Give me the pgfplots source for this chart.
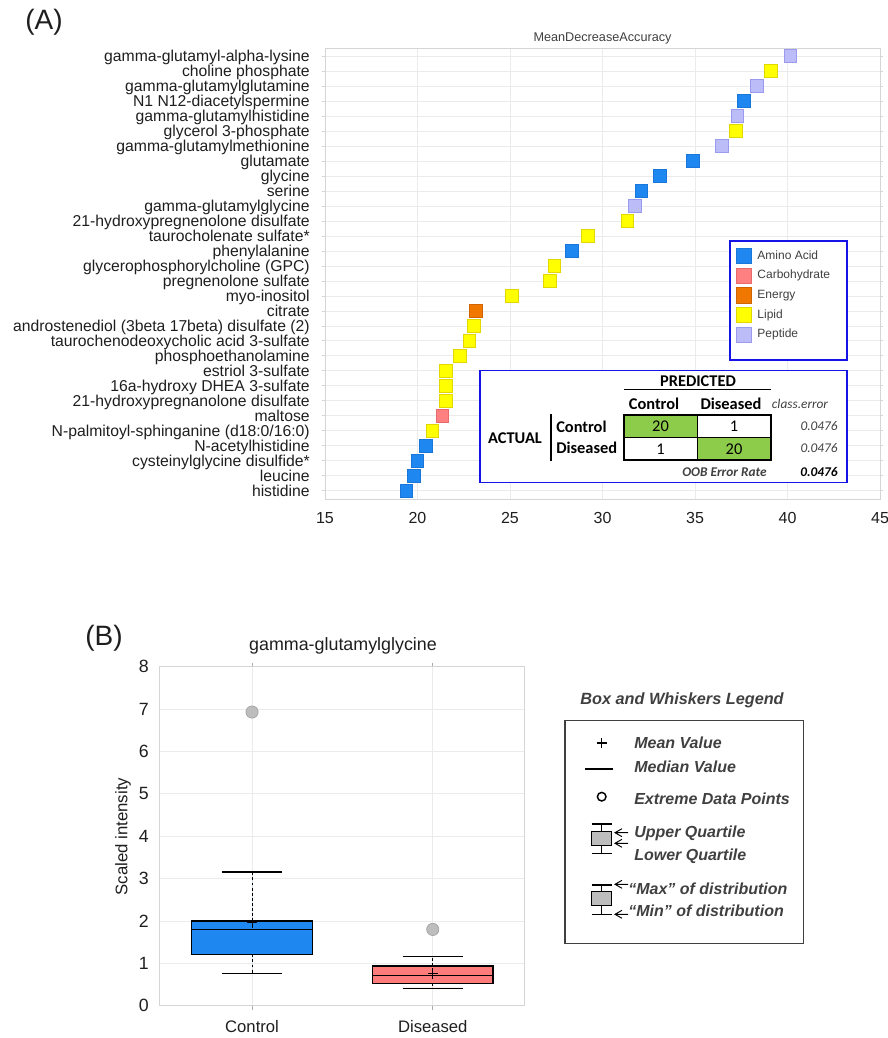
\documentclass[border=0pt]{standalone}
\usepackage{pgfplots}
\pgfplotsset{compat=1.18}
\usepgfplotslibrary{statistics}
\usepackage{fontspec}
\setmainfont{Liberation Sans}
\newfontfamily\calibri{Carlito}
\definecolor{aminoblue}{HTML}{1E88F0}
\definecolor{aminoedge}{HTML}{1A76D8}
\definecolor{carbofill}{HTML}{FF8080}
\definecolor{carboedge}{HTML}{E86A6A}
\definecolor{energyfill}{HTML}{F07800}
\definecolor{energyedge}{HTML}{D06400}
\definecolor{lipidfill}{HTML}{FFFF00}
\definecolor{lipidedge}{HTML}{E2D800}
\definecolor{pepfill}{HTML}{BCBCF8}
\definecolor{pepedge}{HTML}{9A9AEE}
\definecolor{frameblue}{HTML}{1414E6}
\definecolor{cmgreen}{HTML}{8DCB4A}
\definecolor{ctrlbox}{HTML}{1E88F0}
\definecolor{disbox}{HTML}{FF7C7C}
\definecolor{outgray}{HTML}{BDBDBD}
\definecolor{gridgray}{HTML}{EBEBEB}
\definecolor{framegray}{HTML}{D5D5D5}
\definecolor{txt}{HTML}{1E1E1E}
\definecolor{legtxt}{HTML}{404040}
\pgfplotsset{
  catmark/.style n args={2}{only marks, mark=square*, mark size=4.7pt,
    mark options={fill=#1, draw=#2, line width=0.7pt}},
}
\begin{document}
\begin{tikzpicture}
\useasboundingbox (0,0) rectangle (666pt,778.5pt);

% ---------------- Panel A ----------------
\begin{axis}[
  at={(243.75pt,404.25pt)}, anchor=south west,
  scale only axis, width=416.25pt, height=337.875pt,
  xmin=15, xmax=45, ymin=0.45, ymax=30.5,
  xtick={15,20,25,30,35,40,45},
  ytick={1,...,30},
  yticklabels={histidine, leucine, cysteinylglycine disulfide*, N-acetylhistidine,
    N-palmitoyl-sphinganine (d18:0/16:0), maltose, 21-hydroxypregnanolone disulfate,
    16a-hydroxy DHEA 3-sulfate, estriol 3-sulfate, phosphoethanolamine,
    taurochenodeoxycholic acid 3-sulfate, androstenediol (3beta 17beta) disulfate (2),
    citrate, myo-inositol, pregnenolone sulfate, glycerophosphorylcholine (GPC),
    phenylalanine, taurocholenate sulfate*, 21-hydroxypregnenolone disulfate,
    gamma-glutamylglycine, serine, glycine, glutamate, gamma-glutamylmethionine,
    glycerol 3-phosphate, gamma-glutamylhistidine, N1 N12-diacetylspermine,
    gamma-glutamylglutamine, choline phosphate, gamma-glutamyl-alpha-lysine},
  /pgf/number format/assume math mode=true,
  tick align=outside, major tick length=2.5pt,
  tick style={framegray, line width=0.5pt},
  xtick style={draw=none},
  grid=major, major grid style={gridgray, line width=0.5pt},
  axis line style={framegray, line width=0.7pt},
  yticklabel style={font=\fontsize{11.8}{13}\selectfont, text=txt, inner sep=0pt, anchor=east,
    xshift=-8.75pt, yshift=-1.1pt, text height=8.4pt, text depth=2.4pt},
  xticklabel style={font=\fontsize{12}{14}\selectfont, text=txt, inner sep=0pt, anchor=north, yshift=-7.4pt},
  legend style={at={(0.7297,0.5727)}, anchor=north west, draw=none, fill=none,
    font=\fontsize{9}{10.5}\selectfont, text=legtxt, inner xsep=4.6pt, inner ysep=5pt,
    row sep=2.2pt, column sep=2.4pt, nodes={text height=6.6pt, text depth=1.9pt}},
  legend cell align=left,
  legend image code/.code={\draw[#1, mark size=5.7pt] plot coordinates {(0pt,0pt)};},
]
\path[draw=frameblue, line width=1.1pt, fill=white] (rel axis cs:0.7297,0.5727) rectangle (rel axis cs:0.9405,0.3085);
\addplot[catmark={aminoblue}{aminoedge}] coordinates {
 (19.4,1) (19.8,2) (20.0,3) (20.45,4) (28.35,17) (32.1,21) (33.1,22) (34.9,23) (37.65,27)};
\addlegendentry{Amino Acid}
\addplot[catmark={carbofill}{carboedge}] coordinates {(21.35,6)};
\addlegendentry{Carbohydrate}
\addplot[catmark={energyfill}{energyedge}] coordinates {(23.15,13)};
\addlegendentry{Energy}
\addplot[catmark={lipidfill}{lipidedge}] coordinates {
 (20.8,5) (21.55,7) (21.55,8) (21.55,9) (22.3,10) (22.8,11) (23.05,12) (25.1,14)
 (27.15,15) (27.4,16) (29.2,18) (31.35,19) (37.2,25) (39.1,29)};
\addlegendentry{Lipid}
\addplot[catmark={pepfill}{pepedge}] coordinates {
 (31.75,20) (36.45,24) (37.3,26) (38.35,28) (40.15,30)};
\addlegendentry{Peptide}
\end{axis}

% ---------------- Panel B ----------------
\begin{axis}[
  at={(119.25pt,24.225pt)}, anchor=south west,
  scale only axis, width=273.75pt, height=254.25pt,
  xmin=0.485, xmax=2.505, ymin=0, ymax=8,
  xtick={1,2}, xticklabels={Control,Diseased},
  ytick={0,...,8},
  /pgf/number format/assume math mode=true,
  tick align=outside, major tick length=3pt,
  tick style={framegray!80!black, line width=0.5pt},
  ytick style={draw=none},
  grid=major, major grid style={gridgray, line width=0.5pt},
  axis line style={framegray, line width=0.7pt},
  yticklabel style={font=\fontsize{13.3}{15}\selectfont, text=txt, inner sep=0pt, anchor=east, xshift=-4.5pt},
  xticklabel style={font=\fontsize{12.5}{14}\selectfont, text=txt, inner sep=0pt, anchor=north, yshift=-8.2pt},
  boxplot/draw direction=y,
  boxplot/every average/.style={/tikz/mark=+, mark size=3.8pt, mark options={draw=black, line width=0.8pt}},
  boxplot/every median/.style={line width=1.2pt},
  boxplot/every box/.style={line width=1.1pt},
  boxplot/draw/lower whisker/.code={
    \draw[dash pattern=on 2.2pt off 1.6pt, line width=0.6pt]
      (boxplot cs:\pgfplotsboxplotvalue{lower quartile}) -- (boxplot cs:\pgfplotsboxplotvalue{lower whisker});
    \draw[solid, line width=0.6pt]
      (boxplot whisker cs:\pgfplotsboxplotvalue{lower whisker},0) -- (boxplot whisker cs:\pgfplotsboxplotvalue{lower whisker},1);
  },
  boxplot/draw/upper whisker/.code={
    \draw[dash pattern=on 2.2pt off 1.6pt, line width=0.6pt]
      (boxplot cs:\pgfplotsboxplotvalue{upper quartile}) -- (boxplot cs:\pgfplotsboxplotvalue{upper whisker});
    \draw[solid, line width=1.1pt]
      (boxplot whisker cs:\pgfplotsboxplotvalue{upper whisker},0) -- (boxplot whisker cs:\pgfplotsboxplotvalue{upper whisker},1);
  },
]
\addplot[black, fill=ctrlbox, mark=*, mark size=4.6pt,
  mark options={fill=outgray, draw=outgray!85!black, line width=0.5pt},
  boxplot prepared={draw position=1, lower whisker=0.76, lower quartile=1.21, median=1.80,
    upper quartile=2.0, upper whisker=3.15, average=1.96, box extend=0.668, whisker extend=0.333}]
  coordinates {(1,6.93)};
\addplot[black, fill=disbox, mark=*, mark size=4.6pt,
  mark options={fill=outgray, draw=outgray!85!black, line width=0.5pt},
  boxplot prepared={draw position=2, lower whisker=0.42, lower quartile=0.53, median=0.71,
    upper quartile=0.94, upper whisker=1.16, average=0.76, box extend=0.668, whisker extend=0.333}]
  coordinates {(2,1.80)};
\end{axis}

% ---------------- annotations in pixel coordinates ----------------
\begin{scope}[x=0.75pt, y=-0.75pt, yshift=778.5pt]
  \node[font=\fontsize{21}{24}\selectfont, text=txt] at (44,22) {(A)};
  \node[font=\fontsize{21}{24}\selectfont, text=txt] at (104,638) {(B)};
  \node[font=\fontsize{9.5}{11}\selectfont, text=legtxt] at (602.5,38) {MeanDecreaseAccuracy};
  % confusion matrix
  \draw[frameblue, line width=1.1pt, fill=white] (480,370.5) rectangle (847,482.7);
  \node[font=\calibri\bfseries\fontsize{12.3}{14}\selectfont] at (698,381.5) {PREDICTED};
  \draw[line width=1pt] (624,389.5) -- (771,389.5);
  \node[font=\calibri\bfseries\fontsize{12.3}{14}\selectfont] at (654,404) {Control};
  \node[font=\calibri\bfseries\fontsize{12.3}{14}\selectfont] at (731,404) {Diseased};
  \node[font=\calibri\itshape\fontsize{10}{12}\selectfont, text=legtxt] at (800,404) {class.error};
  \fill[cmgreen] (624,415) rectangle (697,437.5);
  \fill[cmgreen] (697,437.5) rectangle (771,460);
  \draw[line width=0.6pt] (697,415) -- (697,460) (624,437.5) -- (771,437.5);
  \draw[line width=1.3pt] (624,415) rectangle (771,460);
  \node[font=\calibri\fontsize{12.3}{14}\selectfont] at (660.5,426.5) {20};
  \node[font=\calibri\fontsize{12.3}{14}\selectfont] at (734,426.5) {1};
  \node[font=\calibri\fontsize{12.3}{14}\selectfont] at (660.5,449) {1};
  \node[font=\calibri\fontsize{12.3}{14}\selectfont] at (734,449) {20};
  \node[font=\calibri\bfseries\fontsize{12.3}{14}\selectfont] at (515,438) {ACTUAL};
  \draw[line width=1.2pt] (551,414) -- (551,461);
  \node[font=\calibri\bfseries\fontsize{12.3}{14}\selectfont, anchor=west, inner sep=0pt] at (556,426.5) {Control};
  \node[font=\calibri\bfseries\fontsize{12.3}{14}\selectfont, anchor=west, inner sep=0pt] at (556,448) {Diseased};
  \node[font=\calibri\itshape\fontsize{10}{12}\selectfont, text=legtxt, anchor=east, inner sep=0pt] at (838,426.5) {0.0476};
  \node[font=\calibri\itshape\fontsize{10}{12}\selectfont, text=legtxt, anchor=east, inner sep=0pt] at (838,448) {0.0476};
  \node[font=\calibri\bfseries\itshape\fontsize{10}{12}\selectfont, text=legtxt, anchor=east, inner sep=0pt] at (767,472) {OOB Error Rate};
  \node[font=\calibri\bfseries\itshape\fontsize{10}{12}\selectfont, text=black, anchor=east, inner sep=0pt] at (838,472) {0.0476};
  % panel B title and y label
  \node[font=\fontsize{13.4}{15}\selectfont, text=txt] at (343,646) {gamma-glutamylglycine};
  \node[font=\fontsize{12.6}{14}\selectfont, text=txt, rotate=90] at (123,836.7) {Scaled intensity};
  % box and whiskers legend
  \node[font=\bfseries\itshape\fontsize{12.2}{14}\selectfont, text=legtxt] at (682,700.7) {Box and Whiskers Legend};
  \draw[legtxt, line width=0.8pt] (565,720.7) rectangle (803.3,943.3);
  \begin{scope}[line width=0.9pt, black]
    \draw[line width=1.1pt] (596.7,743) -- (606.7,743) (601.7,738) -- (601.7,748);
    \draw[line width=1.3pt] (585,769.3) -- (612.7,769.3);
    \draw[line width=1.1pt] (601.7,796.7) circle[radius=4.3];
    % box icon 1
    \draw[line width=0.8pt] (591.7,824) -- (611.7,824) (591.7,853.3) -- (611.7,853.3)
      (601.7,824) -- (601.7,831.7) (601.7,845.7) -- (601.7,853.3);
    \draw[fill=outgray, line width=0.8pt] (591.7,831.7) rectangle (611.7,845.7);
    \draw[line width=0.7pt] (622,828.7) -- (615,832.7) -- (622,836.7) (615,832.7) -- (628,832.7);
    \draw[line width=0.7pt] (622,839.3) -- (615,843.3) -- (622,847.3) (615,843.3) -- (628,843.3);
    % box icon 2
    \draw[line width=0.8pt] (591.7,885) -- (611.7,885) (591.7,914.3) -- (611.7,914.3)
      (601.7,885) -- (601.7,891.7) (601.7,905.7) -- (601.7,914.3);
    \draw[fill=outgray, line width=0.8pt] (591.7,891.7) rectangle (611.7,905.7);
    \draw[line width=0.7pt] (622,880.3) -- (615,884.3) -- (622,888.3) (615,884.3) -- (628,884.3);
    \draw[line width=0.7pt] (622,910.3) -- (615,914.3) -- (622,918.3) (615,914.3) -- (628,914.3);
  \end{scope}
  \begin{scope}[every node/.style={font=\bfseries\itshape\fontsize{12}{14}\selectfont, text=legtxt, anchor=west, inner sep=0pt}]
    \node at (634,742.7) {Mean Value};
    \node at (634,766.7) {Median Value};
    \node at (634,798.3) {Extreme Data Points};
    \node at (634,833.3) {Upper Quartile};
    \node at (634,856) {Lower Quartile};
    \node at (628,888.3) {“Max” of distribution};
    \node at (628,910.7) {“Min” of distribution};
  \end{scope}
\end{scope}
\end{tikzpicture}
\end{document}
